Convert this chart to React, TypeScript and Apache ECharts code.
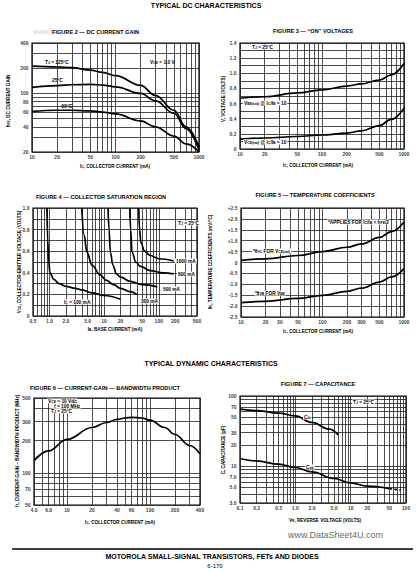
import React, { useEffect, useRef } from "react";
import * as echarts from "echarts";

const FONT = "'Liberation Sans', Arial, Helvetica, sans-serif";

// ---------- FIGURE 2 : DC CURRENT GAIN ----------
const F2_IC = [10, 20, 30, 50, 70, 100, 200, 300, 500, 700, 1000];
const F2_HFE_125C = [212, 208, 203, 190, 178, 163, 125, 95, 63, 40, 23];
const F2_HFE_25C = [118, 124, 127, 128, 126, 120, 100, 82, 58, 38, 21];
const F2_HFE_M55C = [61, 63, 63, 62, 60, 57, 47, 40, 31, 25, 20];
const F2_X_LABELS = ["10", "20", "50", "100", "200", "500", "1000"];
const F2_Y_LABELS = ["20", "40", "60", "80", "100", "200", "400"];

// ---------- FIGURE 3 : "ON" VOLTAGES ----------
const F3_IC = [10, 20, 50, 100, 200, 300, 500, 700, 1000];
const F3_VBE_SAT = [0.67, 0.69, 0.74, 0.78, 0.83, 0.86, 0.91, 0.98, 1.13];
const F3_VCE_SAT = [0.13, 0.145, 0.165, 0.185, 0.21, 0.24, 0.31, 0.39, 0.54];
const F3_X_LABELS = ["10", "20", "50", "100", "200", "500", "1000"];
const F3_Y_LABELS = ["0", "0.2", "0.4", "0.6", "0.8", "1.0", "1.2", "1.4"];

// ---------- FIGURE 4 : COLLECTOR SATURATION REGION ----------
const F4_IB_100 = [0.9, 0.93, 0.97, 1.02, 1.2, 1.5, 2, 3, 4, 6, 10, 20];
const F4_V_100 = [1.0, 0.7, 0.5, 0.4, 0.34, 0.3, 0.275, 0.255, 0.24, 0.215, 0.19, 0.155];
const F4_IB_300 = [3.9, 4.3, 4.85, 6, 8.5, 11, 15, 20, 30, 40];
const F4_V_300 = [1.0, 0.75, 0.59, 0.47, 0.38, 0.33, 0.29, 0.255, 0.225, 0.2];
const F4_IB_500 = [11.8, 12.3, 13, 14.5, 16.8, 20, 30, 50, 94];
const F4_V_500 = [1.0, 0.8, 0.59, 0.47, 0.39, 0.36, 0.32, 0.29, 0.27];
const F4_IB_800 = [29.5, 30.5, 32.5, 38, 46, 70, 120, 187];
const F4_V_800 = [1.0, 0.8, 0.59, 0.5, 0.46, 0.42, 0.4, 0.39];
const F4_IB_1000 = [43, 44.5, 47, 55, 70, 100, 187];
const F4_V_1000 = [1.0, 0.8, 0.68, 0.6, 0.56, 0.53, 0.51];
const F4_X_LABELS = ["0.5", "1.0", "2.0", "5.0", "10", "20", "50", "100", "200", "500"];
const F4_Y_LABELS = ["0", "0.2", "0.4", "0.6", "0.8", "1.0"];

// ---------- FIGURE 5 : TEMPERATURE COEFFICIENTS ----------
const F5_IC = [10, 20, 50, 100, 200, 300, 500, 700, 1000];
const F5_THETA_VC = [0.1, 0.17, 0.32, 0.5, 0.7, 0.85, 1.15, 1.42, 1.86];
const F5_THETA_VB = [-1.84, -1.78, -1.65, -1.51, -1.32, -1.18, -0.9, -0.66, -0.28];
const F5_X_LABELS = ["10", "20", "30", "50", "100", "200", "300", "500", "1000"];
const F5_Y_LABELS = ["-2.5", "-2.0", "-1.5", "-1.0", "-0.5", "0", "+0.5", "+1.0", "+1.5", "+2.0", "+2.5"];

// ---------- FIGURE 6 : CURRENT-GAIN — BANDWIDTH PRODUCT ----------
const F6_IC = [4, 6, 10, 20, 30, 40, 50, 60, 80, 100, 150, 200, 300, 400];
const F6_FT = [130, 160, 205, 265, 295, 315, 325, 330, 325, 310, 265, 228, 180, 150];
const F6_X_LABELS = ["4.0", "6.0", "10", "20", "40", "60", "100", "200", "400"];
const F6_Y_LABELS = ["50", "70", "100", "200", "300", "500"];

// ---------- FIGURE 7 : CAPACITANCE ----------
const F7_VR_CIB = [0.1, 0.2, 0.5, 1.0, 2.0, 4.0, 6.0];
const F7_CIB = [65, 62, 57, 52, 42, 34, 28];
const F7_VR_COB = [0.1, 0.2, 0.5, 1.0, 2.0, 5.0, 10, 20, 50];
const F7_COB = [12.9, 11.9, 10.7, 9.6, 8.3, 6.7, 5.8, 5.2, 4.8];
const F7_VR_COB_EXT = [50, 80];
const F7_COB_EXT = [4.8, 4.6];
const F7_X_LABELS = ["0.1", "0.2", "0.5", "1.0", "2.0", "5.0", "10", "20", "50", "100"];
const F7_Y_LABELS = ["3.0", "5.0", "7.0", "10", "20", "30", "50", "70", "100"];

// grid-line helpers (chart paper rulings)
function logLines(min: number, max: number): number[] {
  const out: number[] = [];
  for (let e = -2; e <= 4; e++) {
    for (let m = 1; m <= 9; m++) {
      const v = Number((m * Math.pow(10, e)).toPrecision(6));
      if (v >= min * 0.999 && v <= max * 1.001) out.push(v);
    }
  }
  return out;
}
function linLines(min: number, max: number, step: number): number[] {
  const out: number[] = [];
  const n = Math.round((max - min) / step);
  for (let i = 0; i <= n; i++) out.push(Number((min + i * step).toFixed(4)));
  return out;
}

type Curve = { xs: number[]; ys: number[]; dashed?: boolean };
type Fig = {
  box: { left: number; top: number; width: number; height: number };
  xType: "log" | "value";
  xMin: number;
  xMax: number;
  yType: "log" | "value";
  yMin: number;
  yMax: number;
  xLines: number[];
  yLines: number[];
  xLabels: string[];
  yLabels: string[];
  curves: Curve[];
};

const FIGS: Fig[] = [
  {
    box: { left: 32, top: 43, width: 167, height: 109 },
    xType: "log", xMin: 10, xMax: 1000, yType: "log", yMin: 20, yMax: 400,
    xLines: logLines(10, 1000), yLines: logLines(20, 400),
    xLabels: F2_X_LABELS, yLabels: F2_Y_LABELS,
    curves: [
      { xs: F2_IC, ys: F2_HFE_125C },
      { xs: F2_IC, ys: F2_HFE_25C },
      { xs: F2_IC, ys: F2_HFE_M55C },
    ],
  },
  {
    box: { left: 240, top: 43, width: 164, height: 106 },
    xType: "log", xMin: 10, xMax: 1000, yType: "value", yMin: 0, yMax: 1.4,
    xLines: logLines(10, 1000), yLines: linLines(0, 1.4, 0.1),
    xLabels: F3_X_LABELS, yLabels: F3_Y_LABELS,
    curves: [
      { xs: F3_IC, ys: F3_VBE_SAT },
      { xs: F3_IC, ys: F3_VCE_SAT },
    ],
  },
  {
    box: { left: 33, top: 208, width: 164, height: 108 },
    xType: "log", xMin: 0.5, xMax: 500, yType: "value", yMin: 0, yMax: 1.0,
    xLines: logLines(0.5, 500), yLines: linLines(0, 1.0, 0.1),
    xLabels: F4_X_LABELS, yLabels: F4_Y_LABELS,
    curves: [
      { xs: F4_IB_100, ys: F4_V_100 },
      { xs: F4_IB_300, ys: F4_V_300 },
      { xs: F4_IB_500, ys: F4_V_500 },
      { xs: F4_IB_800, ys: F4_V_800 },
      { xs: F4_IB_1000, ys: F4_V_1000 },
    ],
  },
  {
    box: { left: 241, top: 208, width: 163, height: 109 },
    xType: "log", xMin: 10, xMax: 1000, yType: "value", yMin: -2.5, yMax: 2.5,
    xLines: logLines(10, 1000), yLines: linLines(-2.5, 2.5, 0.5),
    xLabels: F5_X_LABELS, yLabels: F5_Y_LABELS,
    curves: [
      { xs: F5_IC, ys: F5_THETA_VC },
      { xs: F5_IC, ys: F5_THETA_VB },
    ],
  },
  {
    box: { left: 34, top: 398, width: 166, height: 107 },
    xType: "log", xMin: 4, xMax: 400, yType: "log", yMin: 50, yMax: 500,
    xLines: logLines(4, 400), yLines: logLines(50, 500),
    xLabels: F6_X_LABELS, yLabels: F6_Y_LABELS,
    curves: [{ xs: F6_IC, ys: F6_FT }],
  },
  {
    box: { left: 240, top: 396, width: 166, height: 107 },
    xType: "log", xMin: 0.1, xMax: 100, yType: "log", yMin: 3, yMax: 100,
    xLines: logLines(0.1, 100), yLines: logLines(3, 100),
    xLabels: F7_X_LABELS, yLabels: F7_Y_LABELS,
    curves: [
      { xs: F7_VR_CIB, ys: F7_CIB },
      { xs: F7_VR_COB, ys: F7_COB },
      { xs: F7_VR_COB_EXT, ys: F7_COB_EXT, dashed: true },
    ],
  },
];

const TICK_FS = 5;

function buildSeriesEtc() {
  const grid: any[] = [];
  const xAxis: any[] = [];
  const yAxis: any[] = [];
  const series: any[] = [];
  const hidden = {
    axisLine: { show: false },
    axisTick: { show: false },
    axisLabel: { show: false },
    splitLine: { show: false },
    minorTick: { show: false },
    minorSplitLine: { show: false },
  };
  const tickLabel = {
    show: true,
    formatter: "{b}",
    fontSize: TICK_FS,
    fontWeight: "bold",
    fontFamily: FONT,
    color: "#000",
  };
  FIGS.forEach((f, i) => {
    grid.push({
      ...f.box,
      show: true,
      borderColor: "#000",
      borderWidth: 1.2,
      backgroundColor: "transparent",
    });
    xAxis.push({ gridIndex: i, type: f.xType, logBase: 10, min: f.xMin, max: f.xMax, ...hidden });
    yAxis.push({ gridIndex: i, type: f.yType, logBase: 10, min: f.yMin, max: f.yMax, ...hidden });
    series.push({
      type: "line",
      xAxisIndex: i,
      yAxisIndex: i,
      data: [[f.xMin, f.yMin]],
      showSymbol: false,
      lineStyle: { opacity: 0 },
      silent: true,
      z: 1,
      markLine: {
        silent: true,
        symbol: ["none", "none"],
        label: { show: false },
        lineStyle: { color: "#1e1e1e", width: 0.8, type: "solid" },
        data: [
          ...f.xLines.map((v) => ({ xAxis: v })),
          ...f.yLines.map((v) => ({ yAxis: v })),
        ],
      },
    });
    series.push({
      type: "scatter",
      xAxisIndex: i,
      yAxisIndex: i,
      symbolSize: 1,
      itemStyle: { color: "rgba(0,0,0,0)" },
      clip: false,
      silent: true,
      data: f.xLabels.map((l) => ({ name: l, value: [Number(l), f.yMin] })),
      label: { ...tickLabel, position: "bottom", distance: 2 },
    });
    series.push({
      type: "scatter",
      xAxisIndex: i,
      yAxisIndex: i,
      symbolSize: 1,
      itemStyle: { color: "rgba(0,0,0,0)" },
      clip: false,
      silent: true,
      data: f.yLabels.map((l) => ({ name: l, value: [f.xMin, Number(l)] })),
      label: { ...tickLabel, position: "left", distance: 3 },
    });
    f.curves.forEach((c) => {
      series.push({
        type: "line",
        xAxisIndex: i,
        yAxisIndex: i,
        data: c.xs.map((x, k) => [x, c.ys[k]]),
        showSymbol: false,
        smooth: 0.4,
        smoothMonotone: "x",
        silent: true,
        z: 5,
        lineStyle: { color: "#000", width: 1.7, type: c.dashed ? [3, 2] : "solid" },
      });
    });
  });
  return { grid, xAxis, yAxis, series };
}

const RICH_CACHE: Record<string, any> = {};
function richFor(size: number) {
  const k = String(size);
  if (!RICH_CACHE[k]) {
    RICH_CACHE[k] = {
      s: {
        fontSize: size * 0.72,
        fontWeight: "bold",
        fontFamily: FONT,
        fill: "#000",
        color: "#000",
        verticalAlign: "bottom",
      },
    };
  }
  return RICH_CACHE[k];
}

function txt(
  x: number,
  y: number,
  text: string,
  size: number,
  opts: { align?: string; rotate?: boolean; weight?: string; color?: string; bg?: boolean } = {}
) {
  const align = opts.align || "left";
  return {
    type: "text",
    x,
    y,
    rotation: opts.rotate ? Math.PI / 2 : 0,
    silent: true,
    z: 100,
    style: {
      text,
      fill: opts.color || "#000",
      fontSize: size,
      fontWeight: opts.weight || "bold",
      fontFamily: FONT,
      align,
      verticalAlign: "middle",
      textAlign: align,
      textVerticalAlign: "middle",
      rich: richFor(size),
      backgroundColor: opts.bg ? "#fff" : undefined,
      padding: opts.bg ? [0, 1] : undefined,
    },
  };
}

const TITLE_FS = 5.6;
const AXIS_FS = 4.6;
const NOTE_FS = 4.8;

function buildGraphics() {
  return [
    txt(206, 5, "TYPICAL DC CHARACTERISTICS", 7, { align: "center" }),
    txt(211, 363, "TYPICAL DYNAMIC CHARACTERISTICS", 7, { align: "center" }),

    // Figure 2
    txt(33, 32, "WWW.D", TITLE_FS, { color: "#c8c8c8", weight: "normal" }),
    txt(52, 32, "FIGURE 2 — DC CURRENT GAIN", TITLE_FS),
    txt(115, 166, "I{s|C}, COLLECTOR CURRENT (mA)", AXIS_FS, { align: "center" }),
    txt(8, 101, "h{s|FE}, DC CURRENT GAIN", AXIS_FS, { align: "center", rotate: true }),
    txt(45, 62, "T{s|J} = 125°C", NOTE_FS),
    txt(52, 80, "25°C", NOTE_FS),
    txt(60, 106, "-55°C", NOTE_FS),
    txt(150, 62, "V{s|CE} = 1.0 V", NOTE_FS),

    // Figure 3
    txt(313, 31, "FIGURE 3 — “ON” VOLTAGES", TITLE_FS, { align: "center" }),
    txt(318, 165, "I{s|C}, COLLECTOR CURRENT (mA)", AXIS_FS, { align: "center" }),
    txt(223, 99, "V, VOLTAGE (VOLTS)", AXIS_FS, { align: "center", rotate: true }),
    txt(251, 47, "T{s|J} = 25°C", NOTE_FS, { bg: true }),
    txt(243, 103, "V{s|BE(sat)} @ I{s|C}/I{s|B} = 10", NOTE_FS, { bg: true }),
    txt(243, 142, "V{s|CE(sat)} @ I{s|C}/I{s|B} = 10", NOTE_FS, { bg: true }),

    // Figure 4
    txt(101, 197, "FIGURE 4 — COLLECTOR SATURATION REGION", TITLE_FS, { align: "center" }),
    txt(115, 329, "I{s|B}, BASE CURRENT (mA)", AXIS_FS, { align: "center" }),
    txt(19, 262, "V{s|CE}, COLLECTOR-EMITTER VOLTAGE (VOLTS)", AXIS_FS, { align: "center", rotate: true }),
    txt(177, 223, "T{s|J} = 25°C", NOTE_FS, { bg: true }),
    txt(175, 261, "1000 mA", NOTE_FS, { bg: true }),
    txt(177, 274, "800 mA", NOTE_FS, { bg: true }),
    txt(162, 289, "500 mA", NOTE_FS, { bg: true }),
    txt(140, 301, "300 mA", NOTE_FS, { bg: true }),
    txt(63, 302, "I{s|C} = 100 mA", NOTE_FS, { bg: true }),

    // Figure 5
    txt(315, 195, "FIGURE 5 — TEMPERATURE COEFFICIENTS", TITLE_FS, { align: "center" }),
    txt(318, 331, "I{s|C}, COLLECTOR CURRENT (mA)", AXIS_FS, { align: "center" }),
    txt(210, 262, "θ{s|V}, TEMPERATURE COEFFICIENTS (mV/°C)", AXIS_FS, { align: "center", rotate: true }),
    txt(327, 222, "*APPLIES FOR I{s|C}/I{s|B} < h{s|FE}/2", NOTE_FS, { bg: true }),
    txt(252, 251, "*θ{s|VC} FOR V{s|CE(sat)}", NOTE_FS, { bg: true }),
    txt(254, 293, "*θ{s|VB} FOR V{s|BE}", NOTE_FS, { bg: true }),

    // Figure 6
    txt(105, 388, "FIGURE 6 — CURRENT-GAIN — BANDWIDTH PRODUCT", TITLE_FS, { align: "center" }),
    txt(120, 522, "I{s|C}, COLLECTOR CURRENT (mA)", AXIS_FS, { align: "center" }),
    txt(17, 451, "f{s|T}, CURRENT-GAIN – BANDWIDTH PRODUCT (MHz)", AXIS_FS, { align: "center", rotate: true }),
    txt(47, 401, "V{s|CE} = 10 Vdc", NOTE_FS, { bg: true }),
    txt(53, 406, "f = 100 MHz", NOTE_FS, { bg: true }),
    txt(50, 411, "T{s|J} = 25°C", NOTE_FS, { bg: true }),

    // Figure 7
    txt(318, 384, "FIGURE 7 — CAPACITANCE", TITLE_FS, { align: "center" }),
    txt(325, 520, "V{s|R}, REVERSE VOLTAGE (VOLTS)", AXIS_FS, { align: "center" }),
    txt(223, 450, "C, CAPACITANCE (pF)", AXIS_FS, { align: "center", rotate: true }),
    txt(303, 417, "C{s|ib}", NOTE_FS, { bg: true }),
    txt(305, 467, "C{s|ob}", NOTE_FS, { bg: true }),
    txt(352, 402, "T{s|J} = 25°C", NOTE_FS, { bg: true }),

    // Footer
    txt(288, 535, "www.DataSheet4U.com", 9, { weight: "normal", color: "#6a6a6a" }),
    {
      type: "line",
      silent: true,
      shape: { x1: 12, y1: 549, x2: 413, y2: 549 },
      style: { stroke: "#000", lineWidth: 1.5 },
    },
    txt(212, 556, "MOTOROLA SMALL-SIGNAL TRANSISTORS, FETs AND DIODES", 7, { align: "center" }),
    txt(215, 566, "6-170", 6, { align: "center", weight: "normal" }),
  ];
}

export default function App() {
  const ref = useRef<HTMLDivElement>(null);
  useEffect(() => {
    if (!ref.current) return;
    const chart = echarts.init(ref.current, undefined, { renderer: "svg" });
    const { grid, xAxis, yAxis, series } = buildSeriesEtc();
    chart.setOption({
      animation: false,
      backgroundColor: "#fff",
      grid,
      xAxis,
      yAxis,
      series,
      graphic: buildGraphics(),
    });
    return () => chart.dispose();
  }, []);
  return (
    <div
      ref={ref}
      style={{ position: "absolute", left: 0, top: 0, width: 418, height: 571, background: "#fff" }}
    />
  );
}
